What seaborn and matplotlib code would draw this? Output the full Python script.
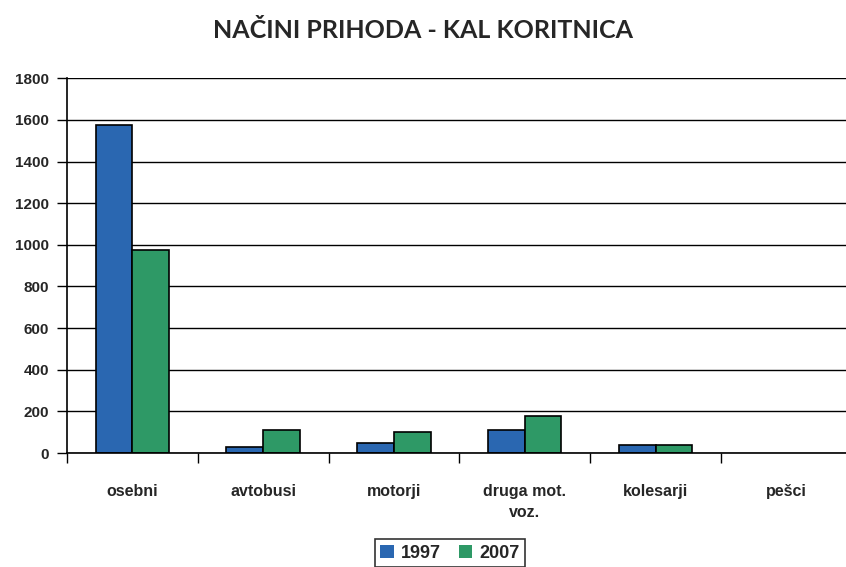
import pandas as pd
import numpy as np
import seaborn as sns
import matplotlib.pyplot as plt

categories = ['osebni', 'avtobusi', 'motorji', 'druga mot.\nvoz.', 'kolesarji', 'pešci']
years = ['1997', '2007']
vals_1997 = [1577, 30, 50, 110, 38, 0]
vals_2007 = [975, 110, 100, 180, 38, 0]
yticks = [0, 200, 400, 600, 800, 1000, 1200, 1400, 1600, 1800]

df = pd.DataFrame({
    'kat': categories * 2,
    'leto': [years[0]] * len(categories) + [years[1]] * len(categories),
    'n': vals_1997 + vals_2007,
})

sns.set_style('white')
plt.rcParams['font.family'] = ['Liberation Sans', 'DejaVu Sans']

fig = plt.figure(figsize=(8.46, 5.67), dpi=100)
ax = fig.add_axes([0.079, 0.201, 0.928, 0.661])

sns.barplot(data=df, x='kat', y='n', hue='leto', order=categories, hue_order=years,
            palette=['#2a67b1', '#2e9966'], width=0.56, edgecolor='black', linewidth=1.2,
            saturation=1, ax=ax, legend=True)

# no outline for empty bars (pesci)
for p in ax.patches:
    if p.get_height() == 0:
        p.set_linewidth(0)

ax.set_xlim(-0.5, 5.5)
ax.set_ylim(0, 1800)
ax.set_yticks(yticks)
ax.set_yticklabels([str(v) for v in yticks], fontsize=11, fontweight='bold')
ax.yaxis.grid(True, color='black', linewidth=1)
ax.set_axisbelow(True)

# category separators as ticks
ax.set_xticks(np.arange(len(categories)))
ax.set_xticklabels(categories, fontsize=11.5, fontweight='bold', linespacing=1.5)
ax.set_xticks(np.arange(-0.5, len(categories), 1), minor=True)
ax.tick_params(axis='x', which='major', length=0, pad=22)
ax.tick_params(axis='x', which='minor', length=7, width=1, color='black', direction='out', bottom=True)
ax.tick_params(axis='y', length=7, width=1, color='black', direction='out', left=True, pad=6)

for s in ['top', 'right']:
    ax.spines[s].set_visible(False)
for s in ['left', 'bottom']:
    ax.spines[s].set_color('black')
    ax.spines[s].set_linewidth(1.2)

ax.set_xlabel('')
ax.set_ylabel('')

leg = ax.legend(loc='center', bbox_to_anchor=(0.488, -0.267), ncol=2, frameon=True,
                fancybox=False, edgecolor='black', handlelength=0.75, handleheight=0.75,
                handletextpad=0.4, columnspacing=1.0, borderpad=0.3, borderaxespad=0,
                prop={'weight': 'bold', 'size': 13})
leg.get_frame().set_linewidth(1.2)

fig.text(0.5, 0.947, 'NAČINI PRIHODA - KAL KORITNICA', ha='center', va='center',
         fontsize=18, fontweight='bold', family=['Lato', 'DejaVu Sans'])

plt.savefig('out.png', dpi=100)
